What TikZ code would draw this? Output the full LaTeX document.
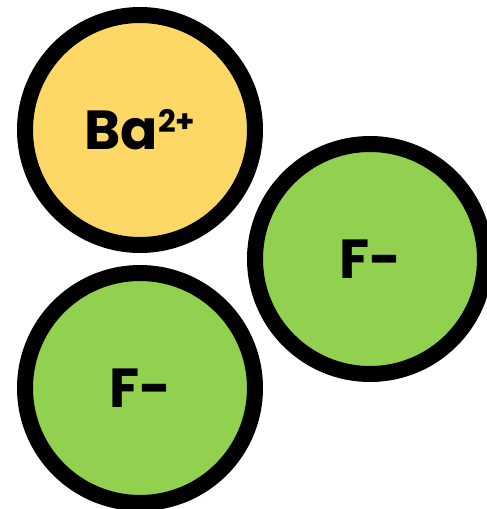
\documentclass[tikz,border=0pt]{standalone}
\usepackage{fontspec}
\setmainfont{Poppins}

\begin{document}
\begin{tikzpicture}[x=1pt,y=1pt,yscale=-1,xscale=1]
\tikzset{ion/.style={circle,draw=black,line width=16pt,minimum size=230pt,inner sep=0pt,font=\fontsize{55}{60}\selectfont\bfseries}}
\useasboundingbox (0,0) rectangle (487,509);

%Shape: Circle [Ba]
\node [ion,fill={rgb, 255:red, 253; green, 216; blue, 102 }] (ba) at (140,130) {Ba\raisebox{17pt}{\fontsize{31}{31}\selectfont 2+}};
%Shape: Circle [F right]
\node [ion,fill={rgb, 255:red, 146; green, 208; blue, 80 }] (fright) at (370,259) {F-};
%Shape: Circle [F bottom]
\node [ion,fill={rgb, 255:red, 146; green, 208; blue, 80 }] (fbottom) at (140,388) {F-};

\end{tikzpicture}
\end{document}
